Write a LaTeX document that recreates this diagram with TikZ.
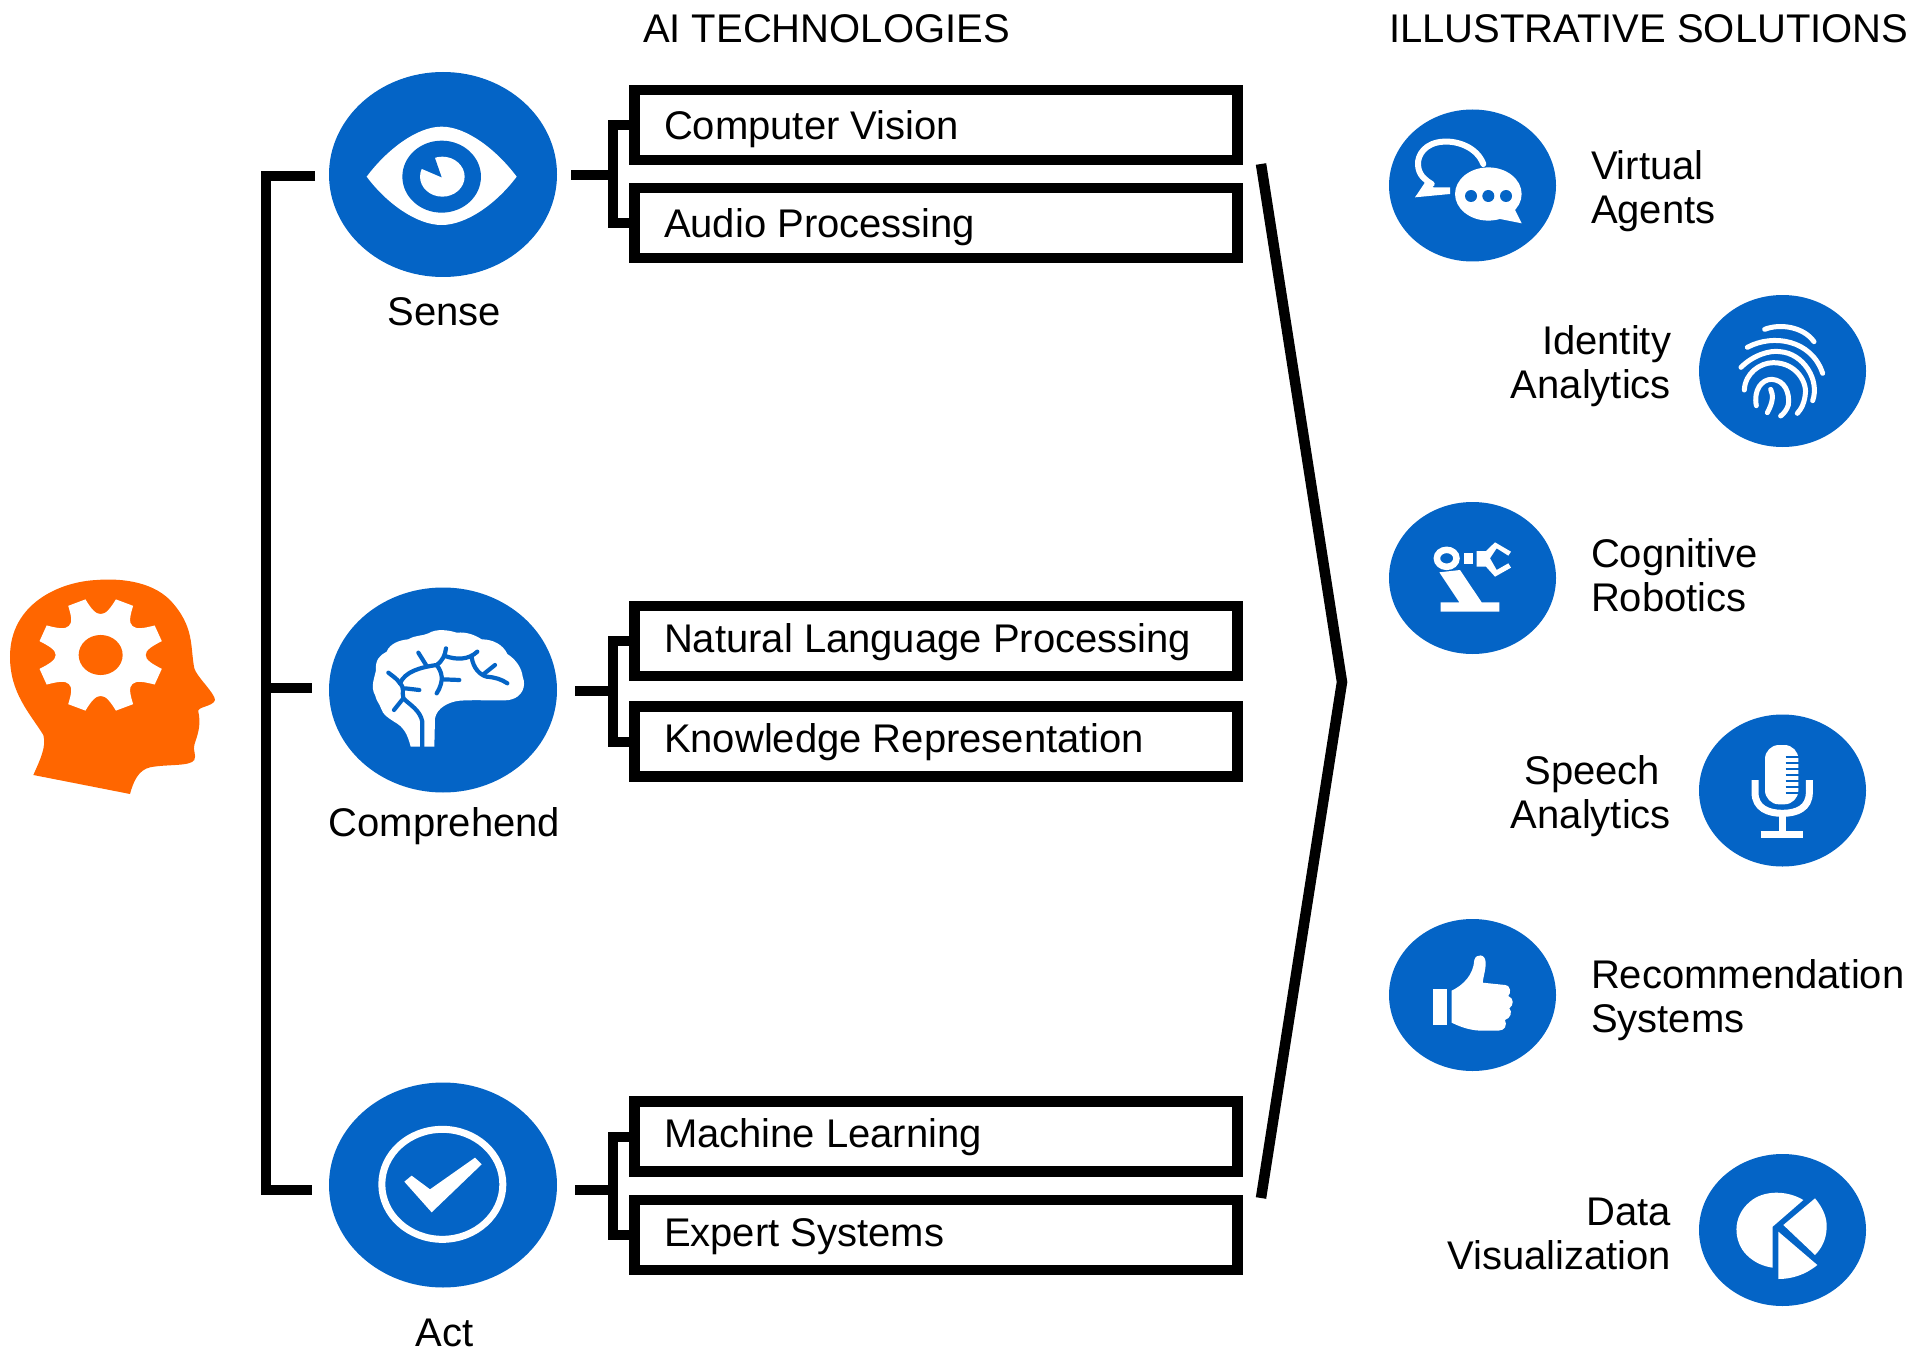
\documentclass[tikz,border=0pt]{standalone}
\usepackage{fontspec}
\setmainfont{Liberation Sans}
\definecolor{iconblue}{HTML}{0464C6}
\definecolor{headorange}{HTML}{FF6600}
\tikzset{
  conn/.style={draw=black,line width=10pt,line cap=butt,line join=miter},
  techbox/.style={draw=black,line width=10.5pt,rectangle,minimum width=603pt,minimum height=70pt,inner sep=0pt,outer sep=0pt},
  bigcirc/.style={ellipse,fill=iconblue,minimum width=228pt,minimum height=205pt,inner sep=0pt,outer sep=0pt},
  smallcirc/.style={ellipse,fill=iconblue,minimum width=167pt,minimum height=152pt,inner sep=0pt,outer sep=0pt},
  txt/.style={inner sep=0pt,outer sep=0pt,text=black,font=\fontsize{40}{44}\selectfont},
  boxtxt/.style={txt,anchor=base west},
  twoleft/.style={txt,anchor=west,align=left},
  tworight/.style={txt,anchor=east,align=right},
  capt/.style={txt,anchor=base},
  wl/.style={draw=white,fill=none,line cap=round,line join=round},
  bl/.style={draw=iconblue,fill=none,line cap=round,line join=round},
  zm/.style={shift={#1},x=0.33333pt,y=-0.33333pt},
}
\usetikzlibrary{shapes.geometric}
\begin{document}
\begin{tikzpicture}[x=1pt,y=-1pt]
\useasboundingbox (0,0) rectangle (1931,1351);
% headers
\node[boxtxt] (hAI) at (643,43) {AI TECHNOLOGIES};
\node[boxtxt] (hIS) at (1389,43) {ILLUSTRATIVE SOLUTIONS};
% large circles
\node[bigcirc] (sense) at (443,174.5) {};
\node[bigcirc] (comp) at (443,690) {};
\node[bigcirc] (act) at (443,1185) {};
\node[capt] (lsense) at (444.5,325) {Sense};
\node[capt] (lcomp) at (444.5,836) {Comprehend};
\node[capt] (lact) at (444.5,1346) {Act};
% tech boxes
\node[techbox] (cv) at (936,125) {};
\node[techbox] (ap) at (936,223) {};
\node[techbox] (nlp) at (936,641) {};
\node[techbox] (kr) at (936,741.5) {};
\node[techbox] (ml) at (936,1136.5) {};
\node[techbox] (es) at (936,1235) {};
\node[boxtxt] at (664,140) {Computer Vision};
\node[boxtxt] at (664,238) {Audio Processing};
\node[boxtxt] at (664,652) {Natural Language Processing};
\node[boxtxt] at (664,752) {Knowledge Representation};
\node[boxtxt] at (664,1147) {Machine Learning};
\node[boxtxt] at (664,1246) {Expert Systems};
% left trunk
\coordinate (c1) at (315,176);
\coordinate (c2) at (312,688);
\coordinate (c3) at (312,1190);
\coordinate (t1) at (266,176);
\coordinate (t2) at (266,688);
\coordinate (t3) at (266,1190);
\draw[conn] (c1) -- (t1) -- (t3) -- (c3);
\draw[conn] (t2) -- (c2);
% right brackets
\coordinate (s1) at (571,175);
\coordinate (j1) at (613,175);
\draw[conn] (s1) -- (j1);
\draw[conn] (cv.west) -| (j1) |- (ap.west);
\coordinate (s2) at (575,691);
\coordinate (j2) at (613,691);
\draw[conn] (s2) -- (j2);
\draw[conn] (nlp.west) -| (j2) |- (kr.west);
\coordinate (s3) at (575,1190);
\coordinate (j3) at (613,1190);
\draw[conn] (s3) -- (j3);
\draw[conn] (ml.west) -| (j3) |- (es.west);
% big chevron
\coordinate (ch1) at (1261,164);
\coordinate (ch2) at (1342,682);
\coordinate (ch3) at (1261,1198);
\draw[conn,line width=10.5pt] (ch1) -- (ch2) -- (ch3);
% small circles
\node[smallcirc] (va) at (1472.5,185.5) {};
\node[smallcirc] (ia) at (1782.5,371) {};
\node[smallcirc] (cr) at (1472.5,578) {};
\node[smallcirc] (sp) at (1782.5,790.5) {};
\node[smallcirc] (rs) at (1472.5,995) {};
\node[smallcirc] (dv) at (1782.5,1230) {};
\node[twoleft] at (1591,193) {\strut Virtual\\\strut Agents};
\node[tworight] at (1671,368) {\strut Identity\\\strut Analytics};
\node[twoleft] at (1591,581) {\strut Cognitive\\\strut Robotics};
\node[tworight] at (1671,798) {\strut Speech\hspace*{11pt}\\\strut Analytics};
\node[twoleft] at (1591,1002) {\strut Recommendation\\\strut Systems};
\node[tworight] at (1671,1239) {\strut Data\\\strut Visualization};
% head icon
\begin{scope}[zm={(0,560)}]
\fill[headorange] (100,645) -- (390,702) .. controls (400,665) and (415,630) .. (450,622) .. controls (500,612) and (570,620) .. (583,600) .. controls (590,585) and (578,570) .. (583,555) .. controls (590,530) and (605,500) .. (595,455) .. controls (590,440) and (640,440) .. (645,420) .. controls (645,400) and (590,350) .. (583,325) .. controls (570,260) and (585,200) .. (510,120) .. controls (450,60) and (350,55) .. (290,60) .. controls (180,65) and (30,130) .. (30,290) .. controls (30,400) and (90,460) .. (130,525) .. controls (140,560) and (120,600) .. (100,645) -- cycle;
\begin{scope}[shift={(302,285)},yscale=0.91]
\fill[white] (0:45pt) foreach \a [evaluate=\a as \p using \a+7, evaluate=\a as \q using \a+11, evaluate=\a as \r using \a+14, evaluate=\a as \s using \a+31, evaluate=\a as \t using \a+34, evaluate=\a as \u using \a+38, evaluate=\a as \v using \a+45] in {0,45,...,315} { .. controls (\p:45pt) and (\q:53pt) .. (\r:63pt) -- (\s:63pt) .. controls (\t:53pt) and (\u:45pt) .. (\v:45pt) } -- cycle;
\fill[headorange] (0,0) circle[radius=22pt];
\end{scope}
\end{scope}
% eye
\begin{scope}[zm={(320,60)}]
\fill[white] (140,350) .. controls (200,270) and (290,200) .. (365,200) .. controls (440,200) and (530,270) .. (590,350) .. controls (530,430) and (440,495) .. (365,495) .. controls (290,495) and (200,430) .. (140,350) -- cycle;
\fill[iconblue] (365,350) ellipse[x radius=39.3pt,y radius=36pt];
\fill[white] (367,350) ellipse[x radius=22.3pt,y radius=20pt];
\fill[iconblue] (365,352) -- (295,322) -- (340,280) -- cycle;
\end{scope}
% brain
\begin{scope}[zm={(320,580)}]
\fill[white] (272,500) .. controls (262,460) and (250,440) .. (222,425) .. controls (200,410) and (190,405) .. (183,385) .. controls (178,370) and (170,365) .. (165,345) .. controls (150,320) and (165,290) .. (168,270) .. controls (165,240) and (180,225) .. (200,215) .. controls (210,190) and (240,180) .. (265,178) .. controls (285,165) and (310,168) .. (325,160) .. controls (350,145) and (385,150) .. (410,158) .. controls (440,155) and (465,165) .. (485,178) .. controls (520,178) and (550,195) .. (562,222) .. controls (590,240) and (605,265) .. (608,290) .. controls (620,320) and (605,350) .. (575,358) .. controls (560,365) and (480,358) .. (420,362) .. controls (385,365) and (350,385) .. (345,415) -- (343,500) -- cycle;
\draw[bl,line width=4.2pt] (307,507) -- (307,425) .. controls (300,390) and (270,375) .. (250,355) .. controls (245,335) and (255,325) .. (240,310) .. controls (230,295) and (220,290) .. (205,278);
\draw[bl,line width=4.2pt] (250,355) -- (222,390);
\draw[bl,line width=4.2pt] (255,325) -- (298,330);
\draw[bl,line width=4.2pt] (240,310) .. controls (255,275) and (300,262) .. (350,255) .. controls (370,240) and (375,225) .. (378,205);
\draw[bl,line width=4.2pt] (295,218) -- (320,258);
\draw[bl,line width=4.2pt] (375,228) .. controls (410,240) and (445,240) .. (472,215);
\draw[bl,line width=4.2pt] (455,232) .. controls (460,265) and (480,285) .. (500,290) .. controls (525,292) and (545,298) .. (562,310);
\draw[bl,line width=4.2pt] (490,283) -- (525,255);
\draw[bl,line width=4.2pt] (350,255) .. controls (365,275) and (375,300) .. (350,340);
\draw[bl,line width=4.2pt] (368,298) -- (418,300);
\end{scope}
% check
\begin{scope}[zm={(320,1075)}]
\draw[white,line width=7pt] (367,328) ellipse[x radius=60.5pt,y radius=55pt];
\fill[white] (253,320) -- (275,302) -- (330,343) -- (465,248) -- (485,268) -- (335,412) -- cycle;
\end{scope}
% chat
\begin{scope}[zm={(1380,100)}]
\draw[wl,line width=6pt] (310,192) .. controls (290,140) and (230,122) .. (190,125) .. controls (135,128) and (112,165) .. (114,195) .. controls (116,225) and (135,240) .. (155,252);
\fill[white] (140,240) -- (105,292) -- (210,282) -- (210,262) -- (160,262) -- cycle;
\fill[white] (325,282) ellipse[x radius=33.3pt,y radius=26.6pt];
\fill[white] (350,355) -- (425,370) -- (400,320) -- cycle;
\fill[iconblue] (273,288) circle[radius=6pt];
\fill[iconblue] (325,288) circle[radius=6pt];
\fill[iconblue] (378,288) circle[radius=6pt];
\end{scope}
% fingerprint
\begin{scope}[zm={(1690,290)}]
\draw[wl,line width=5pt] (224,118) .. controls (270,100) and (340,110) .. (372,155);
\draw[wl,line width=5pt] (172,172) .. controls (250,130) and (365,150) .. (398,250);
\draw[wl,line width=5pt] (153,232) .. controls (190,195) and (240,180) .. (270,185) .. controls (340,190) and (390,270) .. (368,332);
\draw[wl,line width=5pt] (163,300) .. controls (165,250) and (210,218) .. (250,218) .. controls (320,218) and (355,280) .. (345,320) .. controls (340,345) and (335,355) .. (322,370);
\draw[wl,line width=5pt] (199,347) .. controls (190,300) and (215,268) .. (245,268) .. controls (285,270) and (300,310) .. (295,345) .. controls (290,360) and (282,370) .. (272,378);
\draw[wl,line width=5pt] (232,368) .. controls (250,335) and (250,315) .. (242,298);
\end{scope}
% robot
\begin{scope}[zm={(1380,495)}]
\draw[white,line width=6.5pt] (200,190) ellipse[x radius=9.8pt,y radius=8.5pt];
\fill[white] (252,175) rectangle (280,208);
\fill[white] (290,168) -- (318,168) -- (345,142) -- (393,170) -- (385,182) -- (350,160) -- (330,190) -- (350,225) -- (385,205) -- (393,218) -- (345,245) -- (318,215) -- (290,215) -- cycle;
\fill[white] (178,232) -- (240,225) -- (305,322) -- (358,322) -- (358,350) -- (182,350) -- (182,322) -- (238,322) -- cycle;
\end{scope}
% microphone
\begin{scope}[zm={(1690,705)}]
\fill[white,rounded corners=14pt] (225,120) rectangle (325,298);
\foreach \yy in {155,173,191,209,227,245,263} \draw[iconblue,line width=2.2pt] (287,\yy) -- (330,\yy);
\draw[white,line width=7pt] (195,225) -- (195,262) .. controls (195,310) and (235,325) .. (277,325) .. controls (320,325) and (358,310) .. (358,262) -- (358,225);
\draw[white,line width=7pt] (277,325) -- (277,385);
\draw[white,line width=7pt] (212,387) -- (340,387);
\end{scope}
% thumb
\begin{scope}[zm={(1380,910)}]
\fill[white] (158,237) rectangle (200,345);
\fill[white] (215,242) .. controls (250,225) and (280,195) .. (283,150) .. controls (288,130) and (318,130) .. (317,160) .. controls (318,175) and (310,200) .. (308,218) -- (375,225) .. controls (395,228) and (392,250) .. (385,258) .. controls (402,265) and (402,285) .. (388,295) .. controls (398,305) and (392,325) .. (375,330) .. controls (382,345) and (375,362) .. (355,362) -- (300,362) .. controls (260,360) and (230,345) .. (215,338) -- cycle;
\end{scope}
% pie
\begin{scope}[zm={(1690,1145)}]
\fill[white] (340,165) .. controls (290,135) and (220,135) .. (180,170) .. controls (125,215) and (130,290) .. (170,330) .. controls (195,355) and (225,365) .. (248,368) -- (248,245) -- cycle;
\fill[white] (280,240) -- (375,160) .. controls (400,190) and (412,220) .. (410,250) .. controls (408,285) and (395,310) .. (375,330) -- cycle;
\fill[white] (265,260) -- (382,360) .. controls (345,390) and (305,402) .. (265,402) -- cycle;
\end{scope}
\end{tikzpicture}
\end{document}
